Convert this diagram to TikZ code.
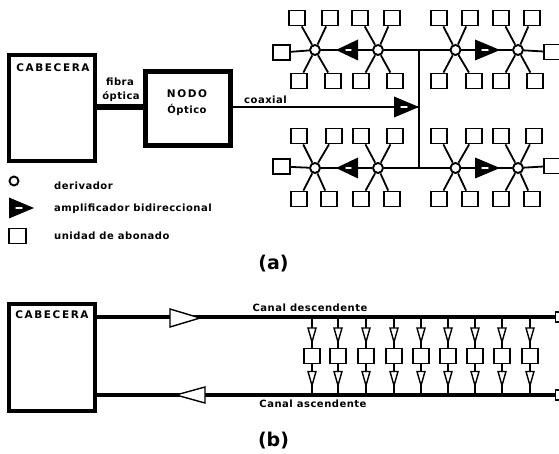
\documentclass[tikz,border=0pt]{standalone}
\usepackage{fontspec}
\setmainfont{DejaVu Sans}
\usetikzlibrary{calc}
\tikzset{
  x=1pt,y=-1pt,
  wire/.style={line width=1.8pt,black},
  coax/.style={line width=1.6pt,black},
  fat/.style={line width=4.5pt,black},
  tap/.style={circle,draw,line width=1.9pt,fill=white,inner sep=0pt,minimum size=10pt},
  sub/.style={rectangle,draw,line width=1.8pt,fill=white,inner sep=0pt,minimum width=16.5pt,minimum height=15pt},
  lab/.style={font=\fontsize{10}{12}\selectfont\bfseries\addfontfeature{LetterSpace=5},inner sep=0pt,anchor=west,text=black},
  clab/.style={lab,anchor=center},
  headlab/.style={clab,font=\fontsize{10.5}{12}\selectfont\bfseries\addfontfeature{LetterSpace=15}},
  figcap/.style={font=\fontsize{19}{22}\selectfont\bfseries,inner sep=0pt,text=black},
  headbox/.style={rectangle,draw,fill=white,inner sep=0pt},
  pics/ampr/.style={code={
    \fill[black] (-12,-10.5) -- (13,0) -- (-12,10.5) -- cycle;
    \draw[white,line width=1.4pt,line cap=round] (-5,0) -- (1,0);
  }},
  pics/ampl/.style={code={
    \fill[black] (11,-10.5) -- (-11,0) -- (11,10.5) -- cycle;
    \draw[white,line width=1.4pt,line cap=round] (4,0) -- (-1,0);
  }},
  pics/tw/.style={code={
    \draw[black,line width=1.4pt,fill=white] (-4,-7) -- (4,-7) -- (0,7) -- cycle;
  }},
}
\newcommand{\starnode}[7]{% name,x,y,topL,topR,botL,botR
  \node[tap] (#1) at (#2,#3) {};
  \node[sub] (#1a) at (#4,#3-32) {};
  \node[sub] (#1b) at (#5,#3-32) {};
  \node[sub] (#1c) at (#6,#3+31) {};
  \node[sub] (#1d) at (#7,#3+31) {};
  \draw[wire] (#1)--(#1a) (#1)--(#1b) (#1)--(#1c) (#1)--(#1d);
}
\begin{document}
\begin{tikzpicture}
\useasboundingbox (0,0) rectangle (559,454);
\fill[white] (0,0) rectangle (559,454);
% (a) head-end and node
\node[headbox,line width=4.5pt,minimum width=86pt,minimum height=106pt] (cab) at (52,108) {};
\node[headbox,line width=5.5pt,minimum width=85pt,minimum height=74pt] (nodo) at (188,108.5) {};
\draw[fat,line width=5.5pt] (cab.east |- 0,107) coordinate (fa) -- (nodo.west |- 0,107);
\node[headlab] (tcab) at (53,68) {CABECERA};
\node[clab] (tfib) at (120,82) {fibra};
\node[clab] (topt) at (121,97) {óptica};
\node[headlab] (tnod) at (187,94) {NODO};
\node[clab] (topt2) at (187,110) {Óptico};
\node[lab] (tcoa) at (244,100) {coaxial};
% stars
\starnode{u1}{315}{50}{297}{330}{299}{333}
\starnode{u2}{378}{50}{360}{392}{361}{395}
\starnode{u3}{455.5}{50}{439}{470}{439}{474}
\starnode{u4}{518}{50}{501}{532}{501}{535}
\starnode{l1}{315}{168}{299}{334}{299}{329}
\starnode{l2}{378}{168}{361}{395}{361}{392}
\starnode{l3}{455.5}{168}{439}{474}{439}{470}
\starnode{l4}{518}{168}{501}{534}{501}{532}
\node[sub] (ul) at (281.5,52.5) {};
\node[sub] (ll) at (281.5,166.5) {};
\node[sub] (ur) at (552,52) {};
\node[sub] (lr) at (552,166) {};
\draw[wire] (u1)--(ul) (l1)--(ll) (u4)--(ur) (l4)--(lr);
\draw[wire] (u1)--(u2) (u2)--(u3) (u3)--(u4);
\draw[wire] (l1)--(l2) (l2)--(l3) (l3)--(l4);
\coordinate (ju) at (419,50);
\coordinate (jl) at (419,168);
\coordinate (jc) at (419,107);
\draw[wire] (ju)--(jl);
\draw[coax] (nodo.east |- jc) -- (jc);
\pic at (347,50) {ampl};
\pic at (347,168) {ampl};
\pic at (487,50) {ampr};
\pic at (487,168) {ampr};
\pic at (406,107) {ampr};
% legend
\node[tap,minimum size=9pt] (lg1) at (14,181) {};
\pic at (21,208) {ampr};
\node[sub] (lg3) at (17.5,236) {};
\node[lab] (t1) at (54,186) {derivador};
\node[lab] (t2) at (54,209) {amplificador bidireccional};
\node[lab] (t3) at (54,236) {unidad de abonado};
\node[figcap] (capa) at (273.5,264) {(a)};
% (b)
\node[headbox,line width=4pt,minimum width=86pt,minimum height=107pt] (cabb) at (51.5,357) {};
\node[headlab] (tcabb) at (52,315) {CABECERA};
\node[rectangle,draw,line width=1.5pt,fill=white,inner sep=0pt,minimum width=7pt,minimum height=10pt] (e1) at (559,317) {};
\node[rectangle,draw,line width=1.5pt,fill=white,inner sep=0pt,minimum width=7pt,minimum height=10pt] (e2) at (559,395) {};
\draw[fat] (cabb.east |- e1) -- (e1.west);
\draw[fat] (cabb.east |- e2) -- (e2.west);
\draw[line width=1.4pt,fill=white] (170,309) -- (200,318) -- (170,327) -- cycle;
\draw[line width=1.4pt,fill=white] (205,387) -- (176,395) -- (205,403) -- cycle;
\node[clab] (tdes) at (310,307.5) {Canal descendente};
\node[clab] (tasc) at (313,404) {Canal ascendente};
\foreach \i/\x in {1/312,2/338,3/366,4/394,5/421,6/448,7/475,8/502,9/530}{
  \node[sub] (b\i) at (\x,356) {};
  \coordinate (bt\i) at (\x,317);
  \coordinate (bb\i) at (\x,395);
  \draw[wire] (bt\i)--(b\i) (b\i)--(bb\i);
  \pic at (\x,335) {tw};
  \pic at (\x,378.5) {tw};
}
\node[figcap] (capb) at (273.5,441) {(b)};
\end{tikzpicture}
\end{document}
